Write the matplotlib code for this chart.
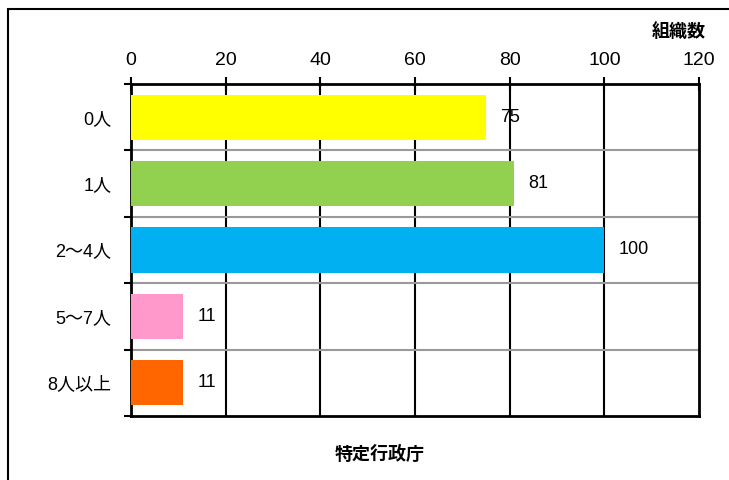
import numpy as np
import matplotlib
matplotlib.use("Agg")
import matplotlib.pyplot as plt
from matplotlib.patches import Rectangle

plt.rcParams['font.family'] = ['Liberation Sans', 'Noto Sans CJK JP']

# データ
categories = ['0人', '1人', '2～4人', '5～7人', '8人以上']
values = [75, 81, 100, 11, 11]
bar_colors = ['#FFFF00', '#92D050', '#00B0F0', '#FF99CC', '#FF6600']
x_ticks = [0, 20, 40, 60, 80, 100, 120]

fig = plt.figure(figsize=(7.29, 4.8), dpi=100)
ax = fig.add_axes([131 / 729, 1 - 416 / 480, (699 - 131) / 729, (416 - 84) / 480])

# 外枠
fig.patches.append(Rectangle((8 / 729, -0.1), 1.0, 1 - 9 / 480 + 0.1,
                             transform=fig.transFigure, fill=False,
                             edgecolor='black', linewidth=1.5))

y = np.arange(len(categories))
ax.barh(y, values, height=0.68, color=bar_colors, zorder=3)

for yi, v in zip(y, values):
    ax.text(v + 3, yi, str(v), va='center', ha='left', fontsize=13, zorder=4)

ax.set_xlim(0, 120)
ax.set_ylim(len(categories) - 0.5, -0.5)
ax.xaxis.tick_top()
ax.set_xticks(x_ticks)
ax.tick_params(axis='x', direction='inout', length=10, width=1.5, pad=6, labelsize=14)
ax.set_yticks(y)
ax.set_yticklabels(categories)
ax.tick_params(axis='y', which='major', length=0, pad=14, labelsize=13)
ax.set_yticks(np.arange(-0.5, len(categories), 1.0), minor=True)
ax.tick_params(axis='y', which='minor', direction='out', length=5, width=1.5)

for xv in x_ticks[1:-1]:
    ax.axvline(xv, color='black', linewidth=1.5, zorder=1)
for yv in np.arange(0.5, len(categories) - 1, 1.0):
    ax.axhline(yv, color='#999999', linewidth=1.5, zorder=1)

for s in ax.spines.values():
    s.set_linewidth(2)
    s.set_color('black')

fig.text(706 / 729, 1 - 32 / 480, '組織数', ha='right', va='center',
         fontsize=13, fontweight='bold')
fig.text(380 / 729, 1 - 455 / 480, '特定行政庁', ha='center', va='center',
         fontsize=13, fontweight='bold')

fig.savefig('out.png', dpi=100)
